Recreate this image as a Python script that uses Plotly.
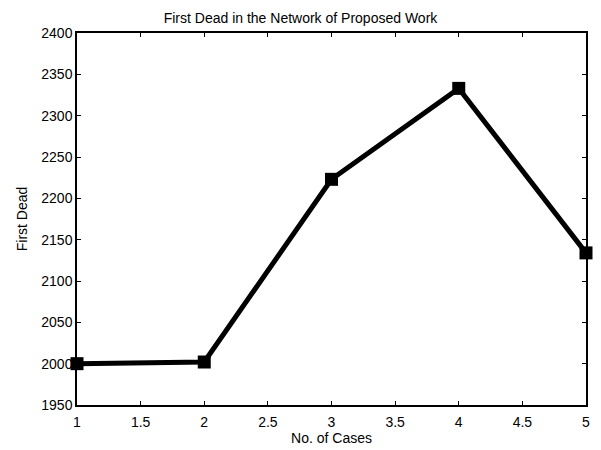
import plotly.graph_objects as go

cases = [1, 2, 3, 4, 5]
first_dead = [2000, 2002, 2223, 2333, 2134]
x_ticks = [1, 1.5, 2, 2.5, 3, 3.5, 4, 4.5, 5]
y_ticks = [1950, 2000, 2050, 2100, 2150, 2200, 2250, 2300, 2350, 2400]

FONT = "Liberation Sans, Arial"
FS = 14

fig = go.Figure(go.Scatter(
    x=cases, y=first_dead, mode="lines+markers",
    line=dict(color="black", width=5),
    marker=dict(symbol="square", size=13, color="black"),
    cliponaxis=False,
))

axis_common = dict(
    showgrid=False, zeroline=False, showline=True, linecolor="black", linewidth=1.5,
    mirror="allticks", ticks="inside", ticklen=4, tickcolor="black",
    tickfont=dict(family=FONT, size=FS, color="black"),
)
fig.update_xaxes(range=[1, 5], tickvals=x_ticks, ticktext=[str(v) for v in x_ticks],
                 ticklabelstandoff=3,
                 title=dict(text="No. of Cases", standoff=0,
                            font=dict(family=FONT, size=FS, color="black")),
                 **axis_common)
fig.update_yaxes(range=[1950, 2400], tickvals=y_ticks,
                 title=dict(text="First Dead", standoff=10,
                            font=dict(family=FONT, size=FS, color="black")),
                 **axis_common)
fig.update_layout(
    width=601, height=450,
    margin=dict(l=77, r=11, t=33, b=41),
    plot_bgcolor="white", paper_bgcolor="white",
    showlegend=False,
    title=dict(text="First Dead in the Network of Proposed Work", x=0.5, xanchor="center",
               y=1 - 18/450, yanchor="middle",
               font=dict(family=FONT, size=FS, color="black")),
)
fig.write_html("out.html")
